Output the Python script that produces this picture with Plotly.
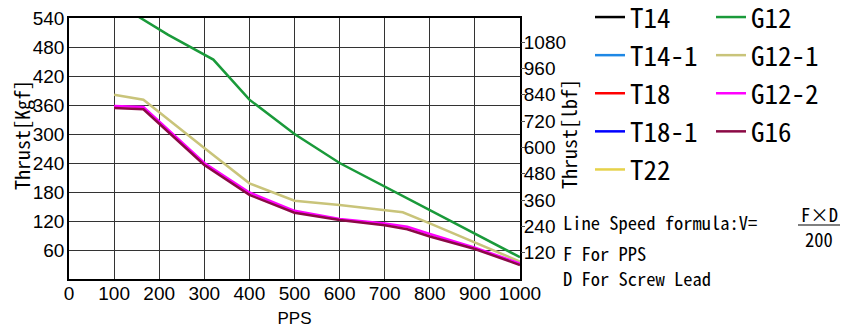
import plotly.graph_objects as go

# ---- data ----
pps_g12 = [150, 220, 320, 400, 500, 600, 1000]
thrust_g12 = [545, 505, 454, 371, 300, 240, 45]

pps_g12_1 = [100, 165, 300, 400, 500, 600, 740, 800, 1000]
thrust_g12_1 = [381, 371, 271, 198, 162, 153, 138, 115, 36]

pps_g12_2 = [100, 165, 300, 400, 500, 600, 700, 750, 800, 900, 1000]
thrust_g12_2 = [358, 356, 240, 179, 141, 124, 115, 108, 93, 65, 32]

pps_g16 = [100, 165, 300, 400, 500, 600, 700, 750, 800, 900, 1000]
thrust_g16 = [354, 351, 236, 174, 137, 122, 111, 103, 88, 62, 29]

t_names = ["T14", "T14-1", "T18", "T18-1", "T22"]
t_colors = ["#000000", "#1e88e5", "#ff0000", "#0000ff", "#e6d24a"]

g_names = ["G12", "G12-1", "G12-2", "G16"]
g_colors = ["#1a9a3a", "#c9c47a", "#ff00ff", "#8b0a45"]

x_ticks = list(range(0, 1001, 100))
y_ticks = list(range(60, 541, 60))
lbf_ticks = list(range(120, 1081, 120))
KGF_TO_LBF = 2.20462

MONO = "Noto Sans Mono CJK JP, Liberation Mono, monospace"
SANS = "Liberation Sans, Arial, sans-serif"

# plot area in pixels: left 69, top 18, 451 x 261 (page body margin removed)
L, T, W, H = 69, 18, 451, 261
def px(p):
    return (p - L) / W
def py(p):
    return (T + H - p) / H

fig = go.Figure()

for n, c in zip(t_names, t_colors):
    fig.add_trace(go.Scatter(x=[None], y=[None], mode="lines", name=n,
                             line=dict(color=c, width=2.5), legend="legend"))

g_data = {
    "G12": (pps_g12, thrust_g12),
    "G12-1": (pps_g12_1, thrust_g12_1),
    "G12-2": (pps_g12_2, thrust_g12_2),
    "G16": (pps_g16, thrust_g16),
}
for n, c in zip(g_names, g_colors):
    xs, ys = g_data[n]
    fig.add_trace(go.Scatter(x=xs, y=ys, mode="lines", name=n,
                             line=dict(color=c, width=2.5), legend="legend2"))

fig.add_trace(go.Scatter(x=[None], y=[None], yaxis="y2", showlegend=False))

grid = "#333333"
fig.update_layout(
    width=860, height=332,
    margin=dict(l=L, r=860 - L - W, t=T, b=332 - T - H, autoexpand=False),
    plot_bgcolor="white", paper_bgcolor="white",
    xaxis=dict(range=[0, 1000], tickvals=x_ticks, showgrid=True, gridcolor=grid, gridwidth=1.3,
               showline=True, linecolor="black", linewidth=1.5, mirror=True, ticks="",
               tickfont=dict(family=SANS, size=19, color="black"), zeroline=False, automargin=False,
               ticklabelstandoff=-4, ticklabeloverflow="allow",
               title=dict(text="PPS", font=dict(family=SANS, size=17, color="black"), standoff=10)),
    yaxis=dict(range=[0, 540], tickvals=y_ticks, showgrid=True, gridcolor=grid, gridwidth=1.3,
               showline=True, linecolor="black", linewidth=1.5, mirror=True, ticks="",
               tickfont=dict(family=SANS, size=19, color="black"), zeroline=False,
               ticklabelstandoff=-1, ticklabeloverflow="allow", automargin=False),
    yaxis2=dict(range=[0, 540 * KGF_TO_LBF], tickvals=lbf_ticks, overlaying="y", side="right",
                showgrid=False, ticks="outside", ticklen=4, tickcolor="#555555", zeroline=False,
                tickfont=dict(family=SANS, size=19, color="black"), ticklabelstandoff=-5,
                ticklabeloverflow="allow", automargin=False),
    legend=dict(x=px(590), y=py(-7), xanchor="left", yanchor="top", bgcolor="rgba(0,0,0,0)",
                font=dict(family=MONO, size=27, color="black"), tracegroupgap=0, maxheight=400),
    legend2=dict(x=px(711), y=py(-7), xanchor="left", yanchor="top", bgcolor="rgba(0,0,0,0)",
                 font=dict(family=MONO, size=27, color="black"), tracegroupgap=0, maxheight=400),
    showlegend=True,
)

title_font = dict(family=MONO, size=20, color="black")
fig.add_annotation(xref="paper", yref="paper", x=px(21), y=py(135), textangle=-90,
                   text="Thrust[Kgf]", showarrow=False, font=title_font,
                   xanchor="center", yanchor="middle")
fig.add_annotation(xref="paper", yref="paper", x=px(568), y=py(134), textangle=-90,
                   text="Thrust[lbf]", showarrow=False, font=title_font,
                   xanchor="center", yanchor="middle")

ftxt = dict(family=MONO, size=18.5, color="black")
fig.add_annotation(xref="paper", yref="paper", x=px(561), y=py(222), xanchor="left", yanchor="middle",
                   text="Line Speed formula:V=", showarrow=False, font=ftxt)
fig.add_annotation(xref="paper", yref="paper", x=px(819), y=py(214), xanchor="center", yanchor="middle",
                   text="F×D", showarrow=False, font=ftxt)
fig.add_annotation(xref="paper", yref="paper", x=px(819), y=py(239), xanchor="center", yanchor="middle",
                   text="200", showarrow=False, font=ftxt)
fig.add_shape(type="line", xref="paper", yref="paper", x0=px(798), x1=px(840), y0=py(225), y1=py(225),
              line=dict(color="black", width=1.2))
fig.add_annotation(xref="paper", yref="paper", x=px(561), y=py(253), xanchor="left", yanchor="middle",
                   text="F For PPS", showarrow=False, font=ftxt)
fig.add_annotation(xref="paper", yref="paper", x=px(561), y=py(278), xanchor="left", yanchor="middle",
                   text="D For Screw Lead", showarrow=False, font=ftxt)

fig.write_html("out.html", config={"displayModeBar": False},
               post_script="document.body.style.margin='0';document.body.style.padding='0';")
